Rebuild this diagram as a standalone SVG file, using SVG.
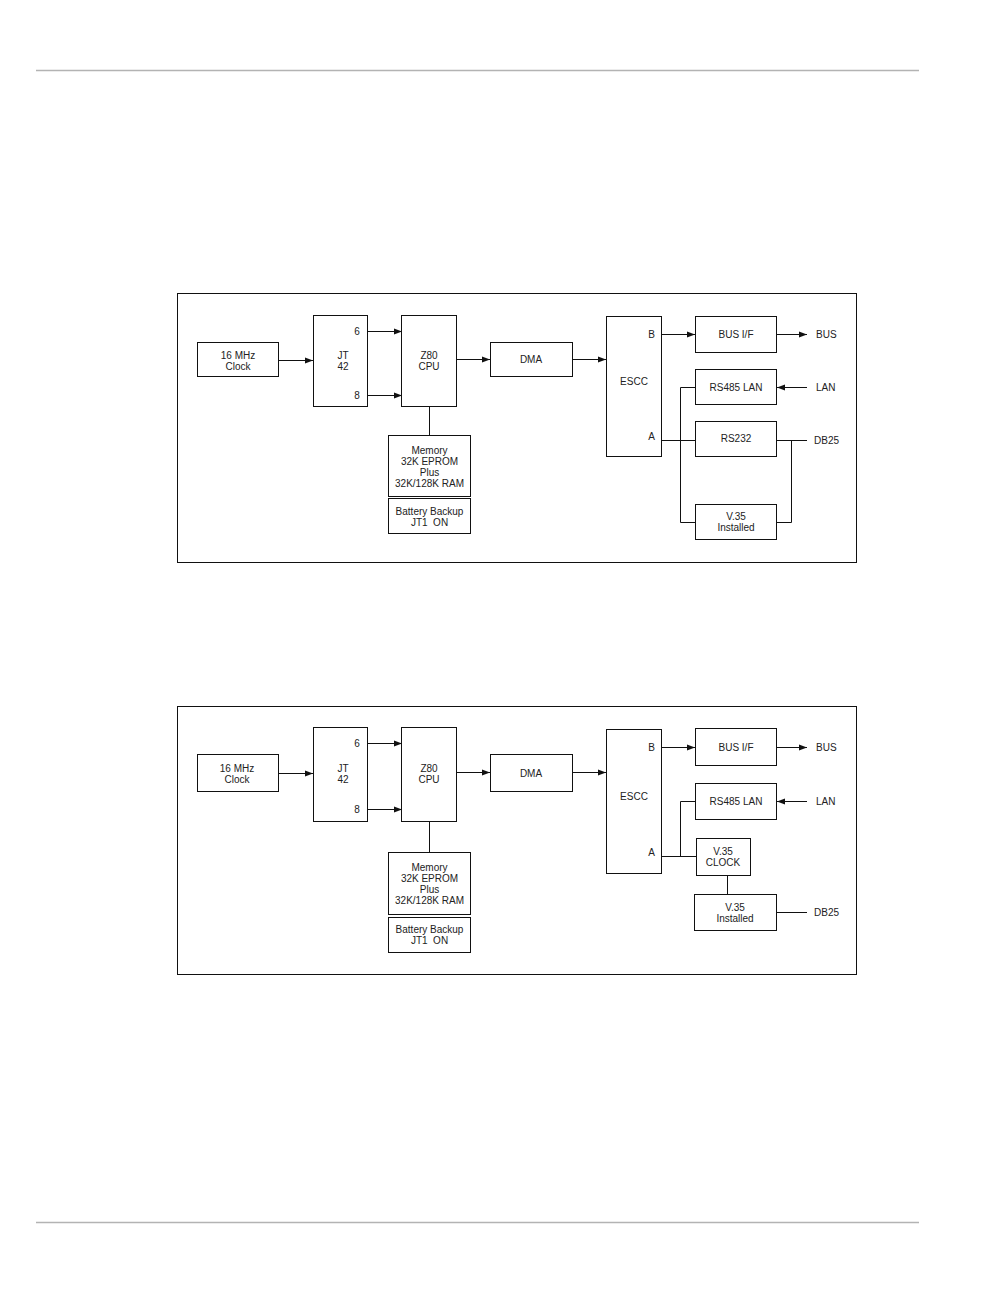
<svg xmlns="http://www.w3.org/2000/svg" width="1008" height="1296" viewBox="0 0 1008 1296">
<style>
.rule{stroke:#b3b3b3;stroke-width:1.5;fill:none}
.frame{fill:none;stroke:#111;stroke-width:1}
.box{fill:#fff;stroke:#111;stroke-width:1}
.ln{stroke:#111;stroke-width:1;fill:none}
.ar{stroke:#111;stroke-width:1;fill:none;marker-end:url(#ah)}
text{font-family:"Liberation Sans",Arial,sans-serif;font-size:10px;fill:#222;text-anchor:middle}
.st{text-anchor:start}
.en{text-anchor:end}
</style>
<defs>
<marker id="ah" markerUnits="userSpaceOnUse" markerWidth="8" markerHeight="8" viewBox="0 0 8 8" refX="8" refY="4" orient="auto">
<path d="M0,1 L8,4 L0,7 Z" fill="#111"/>
</marker>
</defs>
<rect width="1008" height="1296" fill="#fff"/>
<line class="rule" x1="36" y1="70.5" x2="919" y2="70.5"/>
<line class="rule" x1="36" y1="1222.5" x2="919" y2="1222.5"/>

<!-- Diagram 1 -->
<g id="diagram1">
<rect class="frame" x="177.5" y="293.5" width="679" height="269"/>
<g id="d1-connectors">
<line class="ar" x1="279" y1="360.5" x2="313" y2="360.5"/>
<line class="ar" x1="368" y1="331.5" x2="402" y2="331.5"/>
<line class="ar" x1="368" y1="395.5" x2="402" y2="395.5"/>
<line class="ln" x1="429.5" y1="407" x2="429.5" y2="435"/>
<line class="ar" x1="456" y1="359.5" x2="490" y2="359.5"/>
<line class="ar" x1="572" y1="359.5" x2="606" y2="359.5"/>
<line class="ar" x1="661" y1="334.5" x2="695" y2="334.5"/>
<line class="ar" x1="777" y1="334.5" x2="807" y2="334.5"/>
<line class="ar" x1="807" y1="387.5" x2="777" y2="387.5"/>
<line class="ln" x1="661" y1="440.5" x2="695" y2="440.5"/>
<polyline class="ln" points="695,387.5 680.5,387.5 680.5,522.5 695,522.5"/>
<line class="ln" x1="777" y1="440.5" x2="807" y2="440.5"/>
<polyline class="ln" points="777,522.5 791.5,522.5 791.5,440.5"/>
</g>
<g id="d1-clock"><rect class="box" x="197.5" y="342.5" width="81" height="34"/><text x="238" y="358.5">16 MHz</text><text x="238" y="369.5">Clock</text></g>
<g id="d1-jt42"><rect class="box" x="313.5" y="315.5" width="54" height="91"/><text x="343" y="358.5">JT</text><text x="343" y="369.5">42</text><text x="357" y="335">6</text><text x="357" y="398.5">8</text></g>
<g id="d1-cpu"><rect class="box" x="401.5" y="315.5" width="55" height="91"/><text x="429" y="358.5">Z80</text><text x="429" y="369.5">CPU</text></g>
<g id="d1-memory"><rect class="box" x="388.5" y="435.5" width="82" height="61"/><text x="429.5" y="453.5">Memory</text><text x="429.5" y="464.5">32K EPROM</text><text x="429.5" y="475.5">Plus</text><text x="429.5" y="486.5">32K/128K RAM</text></g>
<g id="d1-battery"><rect class="box" x="388.5" y="498.5" width="82" height="35"/><text x="429.5" y="514.5">Battery Backup</text><text x="429.5" y="525.5">JT1&#160; ON</text></g>
<g id="d1-dma"><rect class="box" x="490.5" y="342.5" width="82" height="34"/><text x="531" y="363">DMA</text></g>
<g id="d1-escc"><rect class="box" x="606.5" y="316.5" width="55" height="140"/><text x="634" y="384.5">ESCC</text><text x="651.5" y="337.5">B</text><text x="651.5" y="439.5">A</text></g>
<g id="d1-busif"><rect class="box" x="695.5" y="316.5" width="81" height="36"/><text x="736" y="338">BUS I/F</text></g>
<g id="d1-rs485"><rect class="box" x="695.5" y="369.5" width="81" height="35"/><text x="736" y="390.5">RS485 LAN</text></g>
<g id="d1-rs232"><rect class="box" x="695.5" y="421.5" width="81" height="35"/><text x="736" y="442">RS232</text></g>
<g id="d1-v35"><rect class="box" x="695.5" y="504.5" width="81" height="35"/><text x="736" y="519.5">V.35</text><text x="736" y="530.5">Installed</text></g>
<g id="d1-bus"><text class="st" x="816" y="338">BUS</text></g>
<g id="d1-lan"><text class="st" x="816" y="391">LAN</text></g>
<g id="d1-db25"><text class="st" x="814" y="443.5">DB25</text></g>
</g>

<!-- Diagram 2 -->
<g id="diagram2">
<rect class="frame" x="177.5" y="706.5" width="679" height="268"/>
<g id="d2-connectors">
<line class="ar" x1="278" y1="773.5" x2="313" y2="773.5"/>
<line class="ar" x1="368" y1="743.5" x2="402" y2="743.5"/>
<line class="ar" x1="368" y1="809.5" x2="402" y2="809.5"/>
<line class="ln" x1="429.5" y1="822" x2="429.5" y2="852"/>
<line class="ar" x1="456" y1="772.5" x2="490" y2="772.5"/>
<line class="ar" x1="572" y1="772.5" x2="606" y2="772.5"/>
<line class="ar" x1="661" y1="747.5" x2="695" y2="747.5"/>
<line class="ar" x1="777" y1="747.5" x2="807" y2="747.5"/>
<line class="ar" x1="807" y1="801.5" x2="777" y2="801.5"/>
<line class="ln" x1="661" y1="856.5" x2="696" y2="856.5"/>
<polyline class="ln" points="695,801.5 680.5,801.5 680.5,856.5"/>
<line class="ln" x1="727.5" y1="875" x2="727.5" y2="894"/>
<line class="ln" x1="777" y1="912.5" x2="807" y2="912.5"/>
</g>
<g id="d2-clock"><rect class="box" x="197.5" y="754.5" width="81" height="37"/><text x="237" y="772">16 MHz</text><text x="237" y="783">Clock</text></g>
<g id="d2-jt42"><rect class="box" x="313.5" y="727.5" width="54" height="94"/><text x="343" y="772">JT</text><text x="343" y="783">42</text><text x="357" y="747">6</text><text x="357" y="812.5">8</text></g>
<g id="d2-cpu"><rect class="box" x="401.5" y="727.5" width="55" height="94"/><text x="429" y="772">Z80</text><text x="429" y="783">CPU</text></g>
<g id="d2-memory"><rect class="box" x="388.5" y="852.5" width="82" height="62"/><text x="429.5" y="870.5">Memory</text><text x="429.5" y="881.5">32K EPROM</text><text x="429.5" y="892.5">Plus</text><text x="429.5" y="903.5">32K/128K RAM</text></g>
<g id="d2-battery"><rect class="box" x="388.5" y="917.5" width="82" height="35"/><text x="429.5" y="932.5">Battery Backup</text><text x="429.5" y="943.5">JT1&#160; ON</text></g>
<g id="d2-dma"><rect class="box" x="490.5" y="754.5" width="82" height="37"/><text x="531" y="776.5">DMA</text></g>
<g id="d2-escc"><rect class="box" x="606.5" y="729.5" width="55" height="144"/><text x="634" y="799.5">ESCC</text><text x="651.5" y="750.5">B</text><text x="651.5" y="855.5">A</text></g>
<g id="d2-busif"><rect class="box" x="695.5" y="728.5" width="81" height="37"/><text x="736" y="750.5">BUS I/F</text></g>
<g id="d2-rs485"><rect class="box" x="695.5" y="783.5" width="81" height="36"/><text x="736" y="804.5">RS485 LAN</text></g>
<g id="d2-v35clock"><rect class="box" x="696.5" y="838.5" width="54" height="37"/><text x="723" y="854.5">V.35</text><text x="723" y="865.5">CLOCK</text></g>
<g id="d2-v35"><rect class="box" x="694.5" y="894.5" width="82" height="36"/><text x="735" y="910.5">V.35</text><text x="735" y="921.5">Installed</text></g>
<g id="d2-bus"><text class="st" x="816" y="750.5">BUS</text></g>
<g id="d2-lan"><text class="st" x="816" y="805">LAN</text></g>
<g id="d2-db25"><text class="st" x="814" y="915.5">DB25</text></g>
</g>
</svg>
